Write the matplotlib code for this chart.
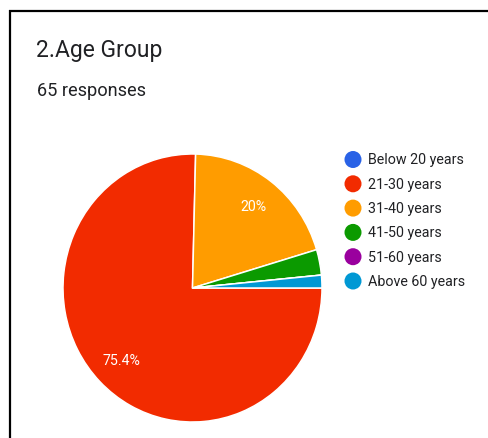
import matplotlib
matplotlib.use("Agg")
import matplotlib.pyplot as plt

plt.rcParams['font.family'] = ['Roboto', 'DejaVu Sans']

title = "2.Age Group"
subtitle = "65 responses"
groups = ["Below 20 years", "21-30 years", "31-40 years",
          "41-50 years", "51-60 years", "Above 60 years"]
counts = [0, 49, 13, 2, 0, 1]
colors = ["#2962e6", "#f22b00", "#ff9c00", "#0b9a00", "#9a009e", "#0098d4"]


def pct_label(p):
    # only the bigger slices get a label inside
    if p < 5:
        return ""
    return f"{p:.1f}".rstrip("0").rstrip(".") + "%"


W, H = 488, 439
fig = plt.figure(figsize=(W / 100, H / 100), dpi=100)

# background layer in pixel units
bg = fig.add_axes([0, 0, 1, 1])
bg.set_xlim(0, W)
bg.set_ylim(H, 0)
bg.axis("off")

# card border (top and left edges)
bg.plot([9, W], [12, 12], color="black", lw=1.6, solid_capstyle="butt")
bg.plot([10, 10], [11, H], color="black", lw=1.6, solid_capstyle="butt")

bg.text(36, 56.5, title, fontsize=16.5, color="#202124", va="baseline")
bg.text(37, 96.5, subtitle, fontsize=13.1, color="#202124", va="baseline")

# legend
for i, (g, c) in enumerate(zip(groups, colors)):
    y = 160.5 + i * 24.3
    bg.scatter([353], [y], s=150, color=c, edgecolors="none")
    bg.text(367.5, y, g, fontsize=10.3, color="#202124", va="center")

# pie
pie_l, pie_t, pie_r, pie_b = 63, 155, 322, 423
ax = fig.add_axes([pie_l / W, (H - pie_b) / H, (pie_r - pie_l) / W, (pie_b - pie_t) / H])
wedges, _, autotexts = ax.pie(
    counts, colors=colors, startangle=0, counterclock=False,
    autopct=pct_label, pctdistance=0.77,
    wedgeprops=dict(edgecolor="white", linewidth=1.1),
    textprops=dict(color="white", fontsize=10.2),
)
ax.set_aspect("auto")
ax.set_xlim(-1, 1)
ax.set_ylim(-1, 1)
ax.axis("off")

fig.savefig("out.png", dpi=100)
